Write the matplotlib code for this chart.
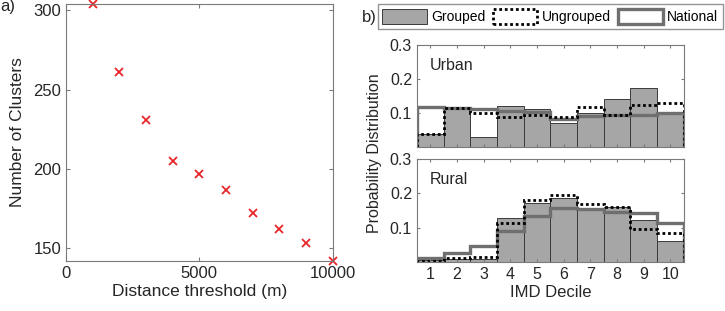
import numpy as np
import matplotlib.pyplot as plt
from matplotlib.patches import Patch

plt.rcParams['font.family'] = ['Liberation Sans', 'DejaVu Sans']

# =========================
# DATA
# =========================
thresholds = [1000, 2000, 3000, 4000, 5000, 6000, 7000, 8000, 9000, 10000]
n_clusters = [304, 261, 231, 205, 197, 187, 172, 162, 153, 142]

deciles = np.arange(1, 11)

urban_grouped = [0.039, 0.115, 0.030, 0.122, 0.111, 0.072, 0.101, 0.141, 0.173, 0.097]
urban_ungrouped = [0.040, 0.114, 0.099, 0.090, 0.094, 0.089, 0.119, 0.094, 0.125, 0.129]
urban_national = [0.118, 0.115, 0.112, 0.105, 0.102, 0.084, 0.092, 0.093, 0.094, 0.100]

rural_grouped = [0.005, 0.008, 0.008, 0.128, 0.172, 0.187, 0.158, 0.161, 0.122, 0.062]
rural_ungrouped = [0.003, 0.010, 0.013, 0.112, 0.180, 0.194, 0.168, 0.161, 0.096, 0.084]
rural_national = [0.012, 0.027, 0.045, 0.091, 0.134, 0.157, 0.155, 0.145, 0.142, 0.112]

GREY = "#a6a6a6"
DARK = "#3a3a3a"
NAT = "#6f6f6f"
SPINE = "#7a7a7a"
TXT = "#262626"

fig = plt.figure(figsize=(7.25, 3.11), dpi=100)


def style_axes(ax):
    for s in ax.spines.values():
        s.set_color(SPINE)
        s.set_linewidth(0.8)
    ax.tick_params(direction="in", top=True, right=True, colors=SPINE,
                   labelcolor=TXT, length=3)


# =========================
# PANEL A
# =========================
axa = fig.add_axes([0.091, 0.161, 0.368, 0.826])
axa.plot(thresholds, n_clusters, "x", color="#e8262a", ms=6, mew=1.3, clip_on=False)
axa.set_xlim(0, 10000)
axa.set_ylim(142, 304)
axa.set_xticks([0, 5000, 10000])
axa.set_yticks([150, 200, 250, 300])
axa.set_xlabel("Distance threshold (m)", fontsize=12.5, color=TXT, labelpad=2)
axa.set_ylabel("Number of Clusters", fontsize=12.5, color=TXT, labelpad=6)
style_axes(axa)
axa.tick_params(labelsize=12)
fig.text(0.0, 0.965, "a)", fontsize=12, color=TXT)

# =========================
# PANEL B
# =========================
edges = np.arange(0.5, 11.0, 1.0)


def draw_hist(ax, grouped, ungrouped, national, title):
    ax.bar(deciles, grouped, width=1.0, color=GREY, edgecolor=DARK, linewidth=0.7)
    ax.stairs(national, edges, baseline=0, color=NAT, linewidth=2.4)
    ax.stairs(ungrouped, edges, baseline=0, color="black", linewidth=2.0, linestyle=(0, (1, 1)))
    ax.set_xlim(0.5, 10.5)
    ax.set_ylim(0, 0.3)
    ax.set_yticks([0.1, 0.2, 0.3])
    ax.set_xticks(deciles)
    ax.text(1.0, 0.24, title, fontsize=11.5, va="center", color=TXT)
    style_axes(ax)
    ax.tick_params(labelsize=11.5, length=2)


axu = fig.add_axes([0.575, 0.527, 0.368, 0.328])
draw_hist(axu, urban_grouped, urban_ungrouped, urban_national, "Urban")
axu.set_xticklabels([])

axr = fig.add_axes([0.575, 0.158, 0.368, 0.331])
draw_hist(axr, rural_grouped, rural_ungrouped, rural_national, "Rural")
axr.set_xlabel("IMD Decile", fontsize=12, color=TXT, labelpad=2)

fig.text(0.517, 0.508, "Probability Distribution", rotation=90, fontsize=11.5,
         ha="center", va="center", color=TXT)
fig.text(0.499, 0.945, "b)", fontsize=12, color=TXT, va="center")

handles = [
    Patch(facecolor=GREY, edgecolor=DARK, linewidth=0.7, label="Grouped"),
    Patch(facecolor="white", edgecolor="black", linewidth=2.0, linestyle=(0, (1, 1)), label="Ungrouped"),
    Patch(facecolor="white", edgecolor=NAT, linewidth=2.4, label="National"),
]
fig.legend(handles=handles, loc="upper right", bbox_to_anchor=(0.997, 0.987),
           ncol=3, fontsize=10, frameon=True, fancybox=False,
           edgecolor=SPINE, handlelength=3.2, handleheight=1.3, columnspacing=0.55,
           handletextpad=0.3, borderpad=0.35, borderaxespad=0)

plt.savefig("out.png", dpi=100)
